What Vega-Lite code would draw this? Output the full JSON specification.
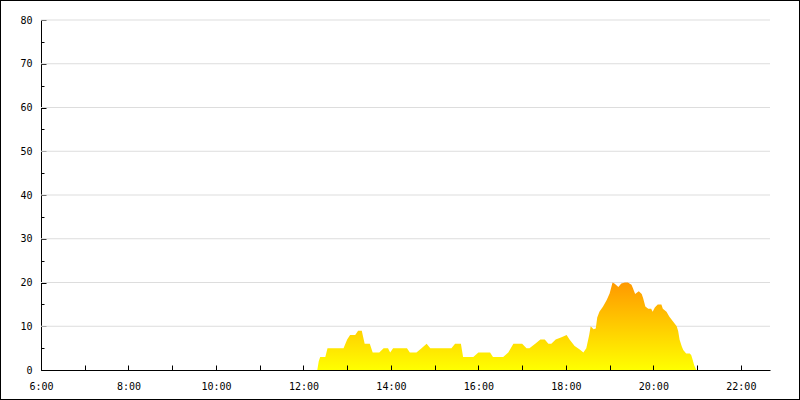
{
  "$schema": "https://vega.github.io/schema/vega-lite/v6.json",
  "autosize": {"type": "none"},
  "width": 800,
  "height": 400,
  "padding": 0,
  "background": "#ffffff",
  "config": {
    "view": {"stroke": "#000000", "strokeWidth": 2},
    "axis": {
      "labelFont": "DejaVu Sans Mono",
      "labelFontSize": 10,
      "labelColor": "#000000",
      "domainColor": "#000000",
      "tickColor": "#000000",
      "labelFlush": false,
      "labelOverlap": false,
      "grid": false
    }
  },
  "datasets": {
    "series": [
      {"t": "2024-01-01T12:19", "v": 0},
      {"t": "2024-01-01T12:21", "v": 2},
      {"t": "2024-01-01T12:23", "v": 3},
      {"t": "2024-01-01T12:30", "v": 3},
      {"t": "2024-01-01T12:33", "v": 5},
      {"t": "2024-01-01T12:55", "v": 5},
      {"t": "2024-01-01T13:00", "v": 7},
      {"t": "2024-01-01T13:04", "v": 8},
      {"t": "2024-01-01T13:11", "v": 8},
      {"t": "2024-01-01T13:15", "v": 9},
      {"t": "2024-01-01T13:20", "v": 9},
      {"t": "2024-01-01T13:24", "v": 6},
      {"t": "2024-01-01T13:31", "v": 6},
      {"t": "2024-01-01T13:35", "v": 4},
      {"t": "2024-01-01T13:44", "v": 4},
      {"t": "2024-01-01T13:50", "v": 5},
      {"t": "2024-01-01T13:56", "v": 5},
      {"t": "2024-01-01T13:59", "v": 4},
      {"t": "2024-01-01T14:03", "v": 5},
      {"t": "2024-01-01T14:22", "v": 5},
      {"t": "2024-01-01T14:26", "v": 4},
      {"t": "2024-01-01T14:35", "v": 4},
      {"t": "2024-01-01T14:42", "v": 5},
      {"t": "2024-01-01T14:49", "v": 6},
      {"t": "2024-01-01T14:54", "v": 5},
      {"t": "2024-01-01T15:23", "v": 5},
      {"t": "2024-01-01T15:28", "v": 6},
      {"t": "2024-01-01T15:36", "v": 6},
      {"t": "2024-01-01T15:39", "v": 3},
      {"t": "2024-01-01T15:53", "v": 3},
      {"t": "2024-01-01T16:00", "v": 4},
      {"t": "2024-01-01T16:16", "v": 4},
      {"t": "2024-01-01T16:20", "v": 3},
      {"t": "2024-01-01T16:34", "v": 3},
      {"t": "2024-01-01T16:41", "v": 4},
      {"t": "2024-01-01T16:48", "v": 6},
      {"t": "2024-01-01T17:00", "v": 6},
      {"t": "2024-01-01T17:06", "v": 5},
      {"t": "2024-01-01T17:10", "v": 5},
      {"t": "2024-01-01T17:18", "v": 6},
      {"t": "2024-01-01T17:25", "v": 7},
      {"t": "2024-01-01T17:31", "v": 7},
      {"t": "2024-01-01T17:36", "v": 6},
      {"t": "2024-01-01T17:40", "v": 6},
      {"t": "2024-01-01T17:46", "v": 7},
      {"t": "2024-01-01T17:54", "v": 7.5},
      {"t": "2024-01-01T18:01", "v": 8},
      {"t": "2024-01-01T18:05", "v": 7},
      {"t": "2024-01-01T18:12", "v": 5.5},
      {"t": "2024-01-01T18:19", "v": 4.7},
      {"t": "2024-01-01T18:24", "v": 4},
      {"t": "2024-01-01T18:28", "v": 5},
      {"t": "2024-01-01T18:32", "v": 8},
      {"t": "2024-01-01T18:34", "v": 10},
      {"t": "2024-01-01T18:38", "v": 9.3},
      {"t": "2024-01-01T18:41", "v": 9.5},
      {"t": "2024-01-01T18:43", "v": 12},
      {"t": "2024-01-01T18:46", "v": 13.3},
      {"t": "2024-01-01T18:51", "v": 14.5},
      {"t": "2024-01-01T18:56", "v": 16},
      {"t": "2024-01-01T19:00", "v": 17.5},
      {"t": "2024-01-01T19:04", "v": 20},
      {"t": "2024-01-01T19:07", "v": 19.7},
      {"t": "2024-01-01T19:12", "v": 19},
      {"t": "2024-01-01T19:16", "v": 19.8},
      {"t": "2024-01-01T19:21", "v": 20},
      {"t": "2024-01-01T19:25", "v": 20},
      {"t": "2024-01-01T19:30", "v": 19.5},
      {"t": "2024-01-01T19:32", "v": 18.7},
      {"t": "2024-01-01T19:35", "v": 17.4},
      {"t": "2024-01-01T19:40", "v": 18},
      {"t": "2024-01-01T19:44", "v": 17.4},
      {"t": "2024-01-01T19:46", "v": 16.4},
      {"t": "2024-01-01T19:49", "v": 14.5},
      {"t": "2024-01-01T19:53", "v": 14},
      {"t": "2024-01-01T19:57", "v": 14},
      {"t": "2024-01-01T19:59", "v": 13.3},
      {"t": "2024-01-01T20:02", "v": 14.3},
      {"t": "2024-01-01T20:06", "v": 15},
      {"t": "2024-01-01T20:11", "v": 15},
      {"t": "2024-01-01T20:13", "v": 14},
      {"t": "2024-01-01T20:18", "v": 13.3},
      {"t": "2024-01-01T20:22", "v": 12.2},
      {"t": "2024-01-01T20:27", "v": 11.1},
      {"t": "2024-01-01T20:32", "v": 10},
      {"t": "2024-01-01T20:34", "v": 8.9},
      {"t": "2024-01-01T20:36", "v": 6.9},
      {"t": "2024-01-01T20:39", "v": 5.4},
      {"t": "2024-01-01T20:41", "v": 4.6},
      {"t": "2024-01-01T20:45", "v": 3.8},
      {"t": "2024-01-01T20:50", "v": 3.8},
      {"t": "2024-01-01T20:52", "v": 3.4},
      {"t": "2024-01-01T20:54", "v": 2.3},
      {"t": "2024-01-01T20:56", "v": 1.1},
      {"t": "2024-01-01T20:59", "v": 0}
    ],
    "gridlines": [
      {"g": 10}, {"g": 20}, {"g": 30}, {"g": 40},
      {"g": 50}, {"g": 60}, {"g": 70}, {"g": 80}
    ]
  },
  "layer": [
    {
      "data": {"name": "gridlines"},
      "mark": {"type": "rule", "color": "#dddddd", "strokeWidth": 1},
      "encoding": {
        "y": {"field": "g", "type": "quantitative"},
        "x": {"datum": {"year": 2024, "month": 1, "date": 1, "hours": 6}, "type": "temporal"},
        "x2": {"datum": {"year": 2024, "month": 1, "date": 1, "hours": 22, "minutes": 40}}
      }
    },
    {
      "data": {"name": "series"},
      "mark": {
        "type": "area",
        "interpolate": "linear",
        "color": {
          "gradient": "linear",
          "x1": 1, "y1": 1, "x2": 1, "y2": 0,
          "stops": [
            {"offset": 0, "color": "#ffff00"},
            {"offset": 1, "color": "#ff9900"}
          ]
        }
      },
      "encoding": {
        "x": {"field": "t", "type": "temporal"},
        "y": {"field": "v", "type": "quantitative"}
      }
    }
  ],
  "encoding": {
    "x": {
      "type": "temporal",
      "title": null,
      "scale": {
        "domain": [
          {"year": 2024, "month": 1, "date": 1, "hours": 6},
          {"year": 2024, "month": 1, "date": 1, "hours": 22, "minutes": 40}
        ],
        "range": [41, 770],
        "nice": false
      },
      "axis": {
        "offset": -30,
        "zindex": 1,
        "tickCount": 17,
        "tickSize": -5,
        "labelPadding": 16,
        "labelExpr": "hours(datum.value) % 2 == 0 ? hours(datum.value) + ':00' : ''"
      }
    },
    "y": {
      "type": "quantitative",
      "title": null,
      "scale": {"domain": [0, 80], "range": [370, 20], "nice": false},
      "axis": {
        "offset": -41,
        "values": [0, 5, 10, 15, 20, 25, 30, 35, 40, 45, 50, 55, 60, 65, 70, 75, 80],
        "tickSize": {"condition": {"test": "datum.value % 10 === 0", "value": -5}, "value": -3},
        "labelPadding": 14,
        "labelExpr": "datum.value % 10 === 0 ? datum.value : ''"
      }
    }
  }
}
